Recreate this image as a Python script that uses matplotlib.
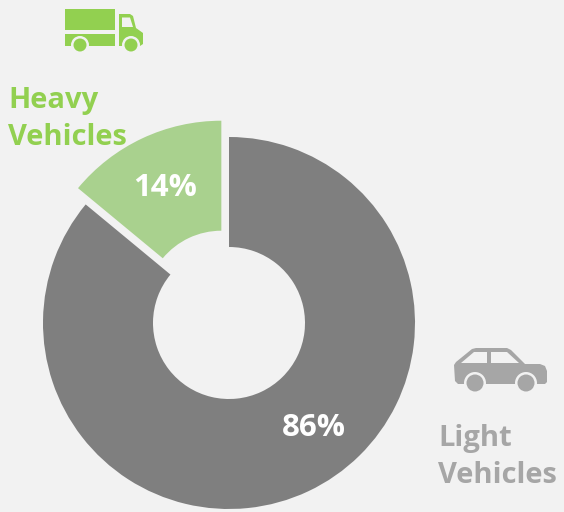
# Vehicle mix donut with truck and car pictograms
import matplotlib
matplotlib.use("Agg")
import matplotlib.pyplot as plt
from matplotlib.patches import Circle, Polygon, Rectangle

plt.rcParams['font.family'] = ['Open Sans', 'DejaVu Sans']

# Data
categories = ["Light\nVehicles", "Heavy\nVehicles"]
shares = [86, 14]
share_labels = ["86%", "14%"]

BG = "#F2F2F2"
GREY = "#7F7F7F"
SOFT_GREEN = "#A9D18E"
GREEN = "#92D050"
LIGHT_GREY = "#A6A6A6"

fig = plt.figure(figsize=(5.64, 5.12), dpi=100, facecolor=BG)
ax = fig.add_axes([0, 0, 1, 1])

# Donut, drawn in a pixel-sized coordinate system (y pointing down is handled by Y())
H = 512


def Y(y):
    return H - y


def pts(coords):
    return [(x, Y(y)) for x, y in coords]


# pie() takes explode in data units, so 18 here is 18 pixels
wedges, _ = ax.pie(shares, colors=[GREY, SOFT_GREEN], startangle=90, counterclock=False,
                   explode=[0, 18], center=(229, Y(323)), radius=186,
                   wedgeprops=dict(width=110, linewidth=0), frame=True)
ax.set_xlim(0, 564)
ax.set_ylim(0, H)
ax.set_aspect("equal")
ax.axis("off")

# Value labels
ax.text(314, Y(428), share_labels[0], color="white", fontsize=22.5, fontweight="bold",
        ha="center", va="center")
ax.text(165, Y(188), share_labels[1], color="white", fontsize=22.5, fontweight="bold",
        ha="center", va="center")

# Category labels
ax.text(8.5, Y(145), categories[1], color=GREEN, fontsize=21, fontweight="bold",
        ha="left", va="baseline", linespacing=1.38)
ax.text(438.5, Y(483), categories[0], color=LIGHT_GREY, fontsize=21, fontweight="bold",
        ha="left", va="baseline", linespacing=1.38)

# Truck icon
ax.add_patch(Rectangle((65, Y(30)), 50, 21, color=GREEN, lw=0))
ax.add_patch(Rectangle((65, Y(46)), 50, 12.5, color=GREEN, lw=0))
ax.add_patch(Polygon(pts([(119, 14), (130, 14), (133, 16), (136, 28), (143, 33), (143, 44),
                          (140, 46), (119, 46)]), color=GREEN, lw=0))
ax.add_patch(Polygon(pts([(122, 17.5), (130, 17.5), (133, 27), (122, 27)]), color=BG, lw=0))
for cx in (80, 131):
    ax.add_patch(Circle((cx, Y(45)), 9, color=BG, lw=0))
    ax.add_patch(Circle((cx, Y(45)), 6.5, color=GREEN, lw=0))

# Car icon
ax.add_patch(Polygon(pts([(454, 365), (456, 362), (472, 349), (476, 348), (507, 348), (511, 350),
                          (525, 364), (540, 364), (545, 366), (547, 371), (547, 382), (545, 384),
                          (458, 384), (455, 381)]), color=LIGHT_GREY, lw=0))
ax.add_patch(Polygon(pts([(461, 363), (474, 352), (487, 352), (487, 363)]), color=BG, lw=0))
ax.add_patch(Polygon(pts([(491, 352), (507, 352), (519, 363), (491, 363)]), color=BG, lw=0))
for cx in (475, 526):
    ax.add_patch(Circle((cx, Y(383)), 11, color=BG, lw=0))
    ax.add_patch(Circle((cx, Y(383)), 8.5, color=LIGHT_GREY, lw=0))

fig.savefig("out.png", dpi=100, facecolor=BG)
